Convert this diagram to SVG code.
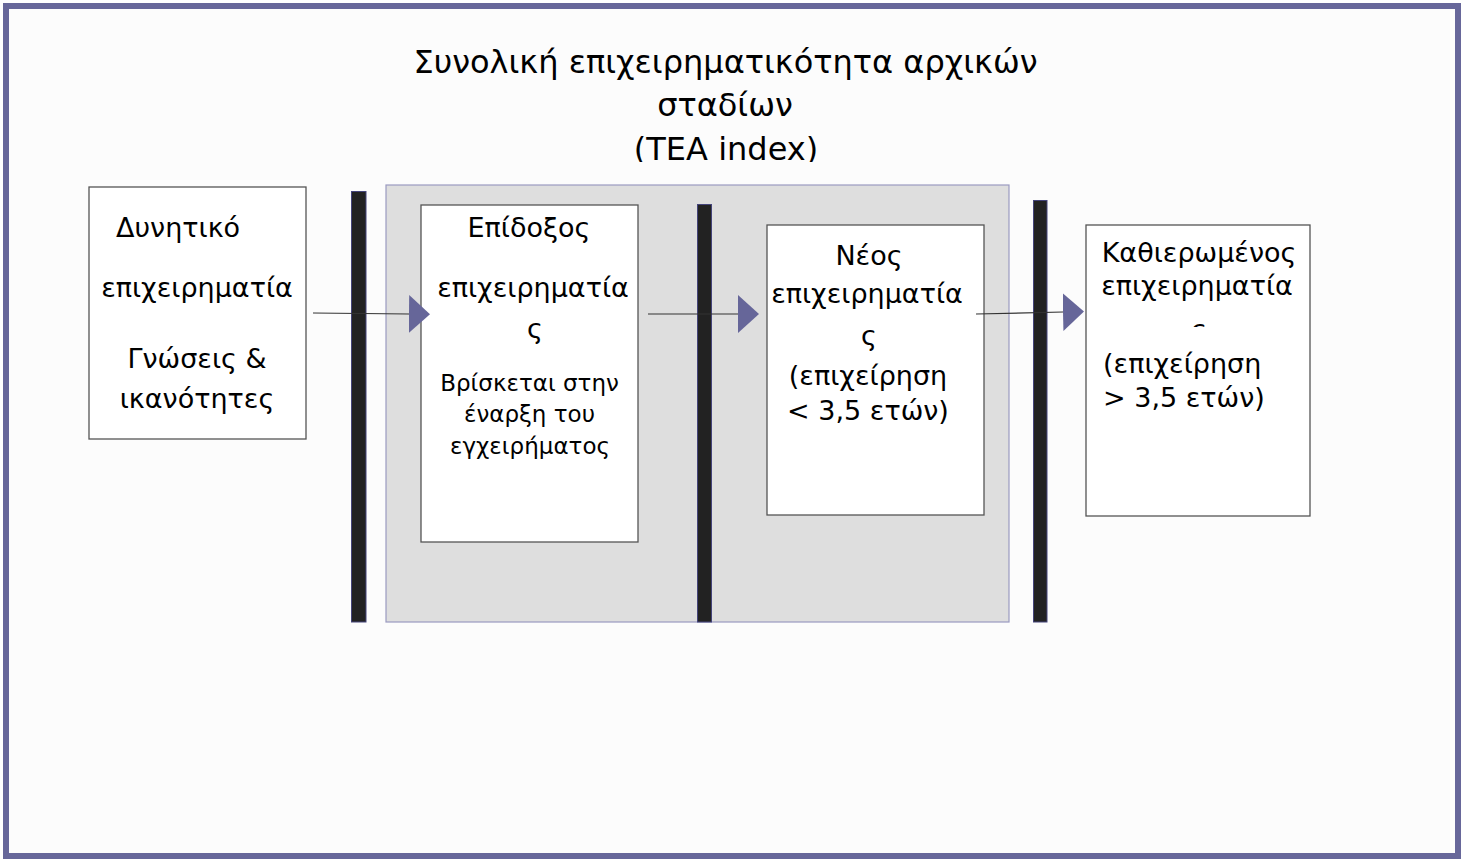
<svg xmlns="http://www.w3.org/2000/svg" width="1468" height="860" viewBox="0 0 1468 860">
<style>
.t{font-family:"DejaVu Sans","Noto Sans",sans-serif;fill:#000;text-anchor:middle}
.b{font-size:27px}
.s{font-size:23px}
.box{fill:#fff;stroke:#555;stroke-width:1.3}
.bar{fill:#222;stroke:#44447a;stroke-width:1}
.ln{stroke:#333;stroke-width:1.2;fill:none}
</style>
<defs>
<marker id="ah" markerUnits="userSpaceOnUse" markerWidth="22" markerHeight="40" refX="0" refY="19" orient="auto" viewBox="0 0 22 40">
<path d="M0,0 L21,19 L0,38 z" fill="#666699"/>
</marker>
<clipPath id="titleClip"><rect x="300" y="20" width="860" height="142"/></clipPath>
<clipPath id="sigClip"><rect x="1090" y="300" width="215" height="27"/></clipPath>
</defs>
<rect x="6" y="6" width="1452" height="850" fill="#fcfcfc" stroke="#67679a" stroke-width="6"/>
<g id="title" clip-path="url(#titleClip)">
<text class="t" x="725.5" y="73" font-size="32">Συνολική επιχειρηματικότητα αρχικών</text>
<text class="t" x="725" y="116" font-size="32">σταδίων</text>
<text class="t" x="726" y="160" font-size="32">(TEA index)</text>
</g>
<g id="tea-area">
<rect x="386" y="185" width="623" height="437" fill="#dedede" stroke="#9a9ac0" stroke-width="1.2"/>
</g>
<g id="bars">
<rect class="bar" x="351.5" y="191.5" width="14.5" height="430.5"/>
<rect class="bar" x="697.5" y="204.5" width="14" height="417.5"/>
<rect class="bar" x="1033.5" y="200.5" width="13.5" height="421.5"/>
</g>
<g id="node-potential">
<rect class="box" x="89" y="187" width="217" height="252"/>
<text class="t b" x="116" y="237" style="text-anchor:start">Δυνητικό</text>
<text class="t b" x="197" y="297">επιχειρηματία</text>
<text class="t b" x="197" y="368">Γνώσεις &amp;</text>
<text class="t b" x="197" y="408">ικανότητες</text>
</g>
<g id="node-nascent">
<rect class="box" x="421" y="205" width="217" height="337"/>
<text class="t b" x="529" y="237">Επίδοξος</text>
<text class="t b" x="533" y="297">επιχειρηματία</text>
<text class="t b" x="535" y="338">ς</text>
<text class="t s" x="529.5" y="391">Βρίσκεται στην</text>
<text class="t s" x="529.5" y="422">έναρξη του</text>
<text class="t s" x="530" y="454">εγχειρήματος</text>
</g>
<g id="node-new">
<rect class="box" x="767" y="225" width="217" height="290"/>
<text class="t b" x="869" y="265">Νέος</text>
<text class="t b" x="867" y="303">επιχειρηματία</text>
<text class="t b" x="869" y="345">ς</text>
<text class="t b" x="868" y="385">(επιχείρηση</text>
<text class="t b" x="868" y="420">&lt; 3,5 ετών)</text>
</g>
<g id="node-established">
<rect class="box" x="1086" y="225" width="224" height="291"/>
<text class="t b" x="1199" y="262">Καθιερωμένος</text>
<text class="t b" x="1197" y="295">επιχειρηματία</text>
<text class="t b" x="1199" y="339" clip-path="url(#sigClip)">ς</text>
<text class="t b" x="1103" y="373" style="text-anchor:start">(επιχείρηση</text>
<text class="t b" x="1103" y="407" style="text-anchor:start">&gt; 3,5 ετών)</text>
</g>
<g id="connectors">
<line class="ln" x1="313" y1="313" x2="409" y2="314" marker-end="url(#ah)"/>
<line class="ln" x1="648" y1="314" x2="738" y2="314" marker-end="url(#ah)"/>
<line class="ln" x1="976" y1="314" x2="1063" y2="312" marker-end="url(#ah)"/>
</g>
</svg>
